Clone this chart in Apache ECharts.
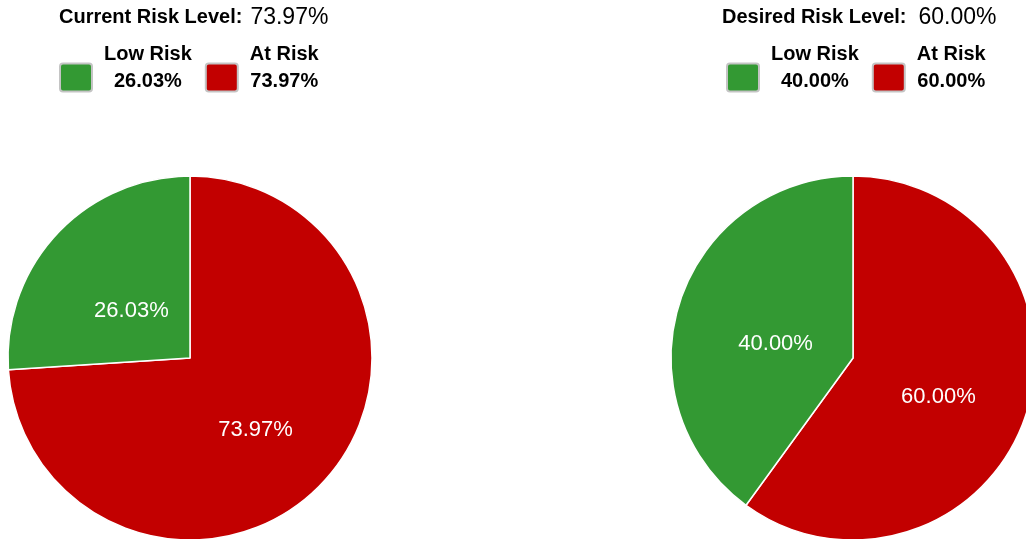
<!DOCTYPE html>
<html>
<head>
<meta charset="utf-8">
<script src="https://cdn.jsdelivr.net/npm/echarts@6/dist/echarts.min.js"></script>
<style>
  html, body { margin: 0; padding: 0; background: #fff; }
  #chart { width: 1026px; height: 539px; }
</style>
</head>
<body>
<div id="chart"></div>
<script>
// chart data
const categories = ['Low Risk', 'At Risk']
const currentValues = [26.03, 73.97]
const desiredValues = [40.00, 60.00]
const titleLabels = ['Current Risk Level:', 'Desired Risk Level:']
const titleValues = ['73.97%', '60.00%']

const FONT = 'Arial, "Liberation Sans", sans-serif'
const colors = { 'Low Risk': '#339933', 'At Risk': '#c20000' }
// small rounded square for the legend keys
const KEY_ICON = 'path://M3,0H29Q32,0 32,3V25Q32,28 29,28H3Q0,28 0,25V3Q0,0 3,0Z'

const pct = v => v.toFixed(2) + '%'

function pieData(values, offsets) {
  // drawn clockwise from the top: At Risk first, then Low Risk
  return [1, 0].map(i => ({
    name: categories[i],
    value: values[i],
    itemStyle: { color: colors[categories[i]] },
    label: { offset: offsets[i] }
  }))
}

function legendFor(values, left) {
  return {
    left: left,
    top: 44,
    padding: 0,
    itemGap: 13,
    itemWidth: 32,
    itemHeight: 28,
    icon: KEY_ICON,
    selectedMode: false,
    data: categories,
    itemStyle: { borderColor: '#c4c4c4', borderWidth: 2 },
    formatter: name => '{n|' + name + '}\n{n|' + pct(values[categories.indexOf(name)]) + '}',
    textStyle: {
      padding: [0, 0, 20, 7],
      rich: {
        n: { fontFamily: FONT, fontSize: 20, fontWeight: 'bold', color: '#000', align: 'center', lineHeight: 27 }
      }
    }
  }
}

function titleFor(i, left, gap) {
  return {
    left: left,
    top: 6,
    padding: 0,
    text: '{b|' + titleLabels[i] + '}{v|' + titleValues[i] + '}',
    textStyle: {
      rich: {
        b: { fontFamily: FONT, fontSize: 20, fontWeight: 'bold', color: '#000' },
        v: { fontFamily: FONT, fontSize: 23, fontWeight: 'normal', color: '#000', padding: [0, 0, 0, gap] }
      }
    }
  }
}

function pieSeries(values, cx, offsets) {
  return {
    type: 'pie',
    center: [cx, 358],
    radius: 182,
    startAngle: 90,
    clockwise: true,
    animation: false,
    silent: true,
    itemStyle: { borderColor: '#fff', borderWidth: 1.5 },
    label: {
      position: 'inside',
      formatter: p => pct(p.value),
      color: '#fff',
      fontFamily: FONT,
      fontSize: 22
    },
    labelLine: { show: false },
    data: pieData(values, offsets)
  }
}

const chart = echarts.init(document.getElementById('chart'))
chart.setOption({
  backgroundColor: '#fff',
  title: [titleFor(0, 59, 8), titleFor(1, 722, 12)],
  legend: [legendFor(currentValues, 59), legendFor(desiredValues, 726)],
  series: [
    pieSeries(currentValues, 190, [[10, 17], [-3, 8]]),
    pieSeries(desiredValues, 853, [[12, 15], [-4, 10]])
  ]
})
</script>
</body>
</html>
